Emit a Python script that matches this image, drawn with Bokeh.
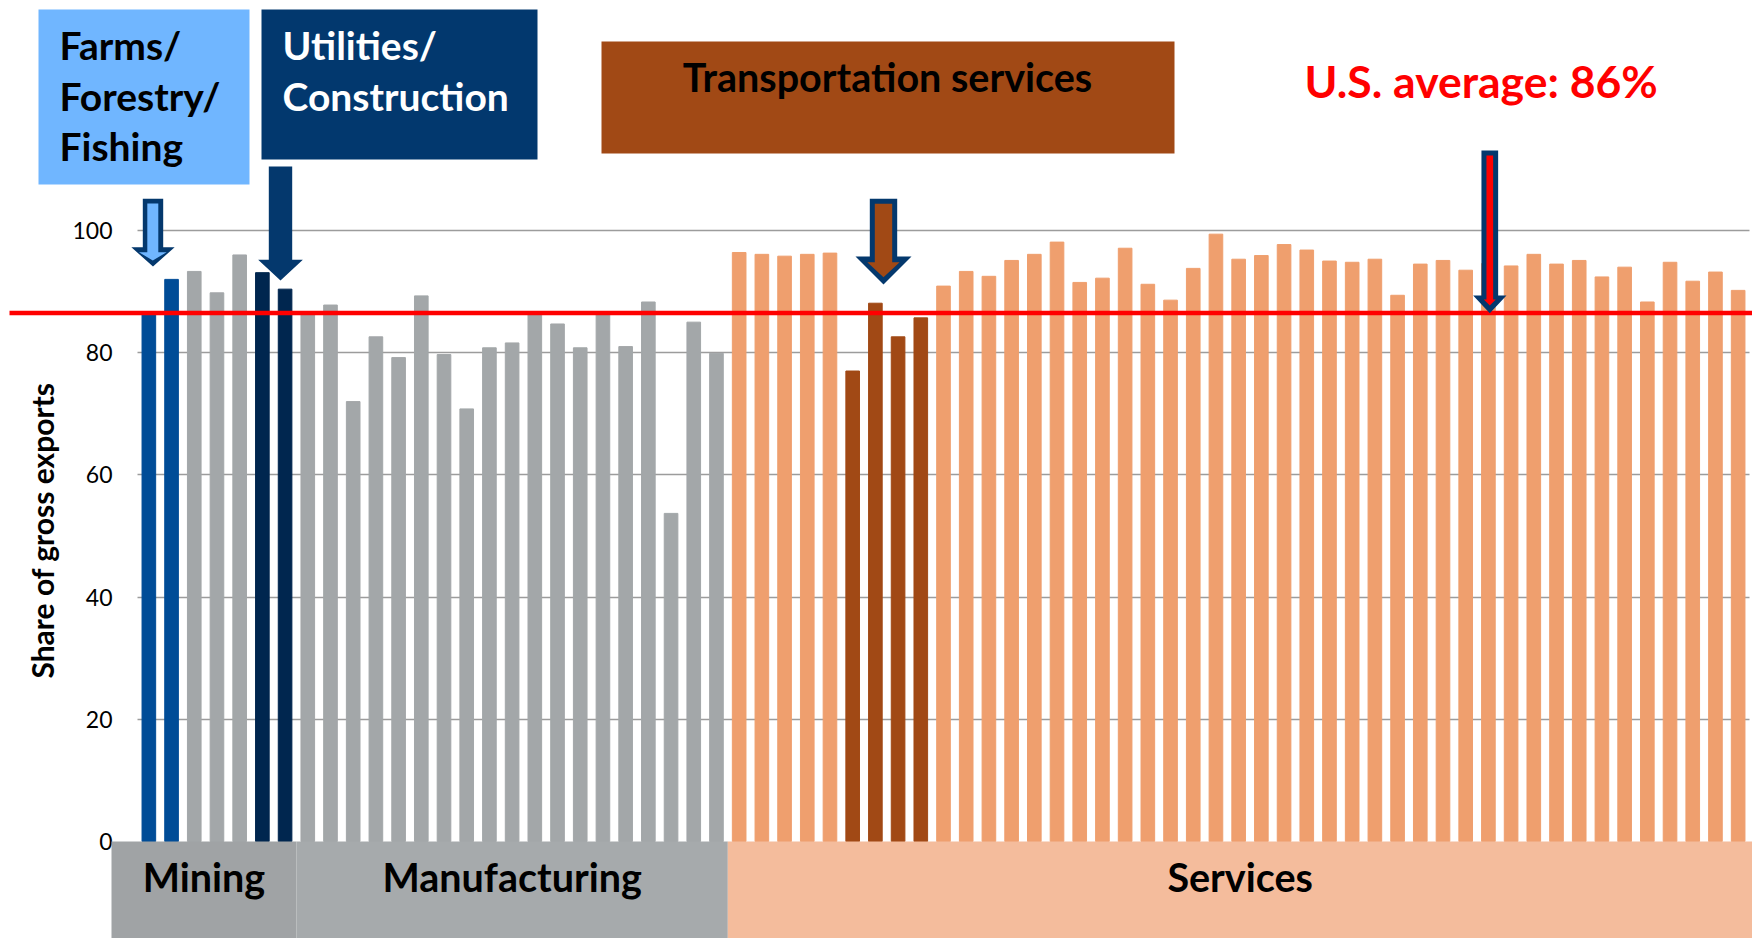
from bokeh.plotting import figure
from bokeh.models import Range1d, BoxAnnotation, PolyAnnotation, Label, FixedTicker, ColumnDataSource
from bokeh.embed import file_html
from bokeh.resources import INLINE

# ---------------- data (share of gross exports, %) ----------------
farms = [86.4, 92.0]
mining = [93.3, 89.8, 96.0]
utilities = [93.1, 90.4]
manufacturing = [86.6, 87.8, 72.0, 82.6, 79.2, 89.3, 79.7, 70.8, 80.8, 81.6,
                 86.6, 84.7, 80.8, 86.6, 81.0, 88.3, 53.7, 85.0, 79.9]
services_a = [96.4, 96.1, 95.8, 96.1, 96.3]
transport = [77.0, 88.1, 82.6, 85.7]
services_b = [90.9, 93.3, 92.5, 95.1, 96.1, 98.1, 91.5, 92.2, 97.1, 91.2,
              88.6, 93.8, 99.4, 95.3, 95.9, 97.7, 96.8, 95.0, 94.8, 95.3,
              89.4, 94.5, 95.1, 93.5, 94.6, 94.2, 96.1, 94.5, 95.1, 92.4,
              94.0, 88.3, 94.8, 91.7, 93.2, 90.2]
us_average = 86.5
y_ticks = [0, 20, 40, 60, 80, 100]
group_labels = ["Mining", "Manufacturing", "Services"]
y_title = "Share of gross exports"

# ---------------- styling ----------------
C_FARM = "#004C97"
C_GRAY = "#A3A7A9"
C_UTIL = "#00264F"
C_SERV = "#EF9F6E"
C_TRAN = "#A14915"
NAVY = "#04386D"
FONT = "Lato"

groups = [(farms, C_FARM), (mining, C_GRAY), (utilities, C_UTIL), (manufacturing, C_GRAY),
          (services_a, C_SERV), (transport, C_TRAN), (services_b, C_SERV)]
vals, cols = [], []
for g, c in groups:
    vals += g
    cols += [c] * len(g)
xs = list(range(1, len(vals) + 1))
n = len(vals)
src = ColumnDataSource(dict(x=xs, top=vals, color=cols))

W, H = 1752, 938
# plot area of the bars in page pixels
FX0, FX1 = 137.0, 1749.0
FY0, FY1 = 230.0, 841.0
def dx(px):
    return 0.5 + (px - FX0) * n / (FX1 - FX0)
def dy(py):
    return (FY1 - py) * 100.0 / (FY1 - FY0)
PXX = (FX1 - FX0) / n  # px per x unit

p = figure(width=W, height=H, x_range=Range1d(dx(0), dx(W)), y_range=Range1d(dy(H), dy(0)),
           output_backend="svg", toolbar_location=None, x_axis_location=None, min_border=0)
p.min_border_left = 0
p.min_border_right = 0
p.min_border_top = 0
p.min_border_bottom = 0
p.outline_line_color = None
p.background_fill_color = "white"
p.border_fill_color = "white"
for g in p.xgrid:
    g.visible = False

ax = p.yaxis[0]
ax.fixed_location = 0.5
ax.bounds = (0, 101.8)
ax.ticker = FixedTicker(ticks=y_ticks)
ax.axis_line_color = None
ax.major_tick_line_color = None
ax.minor_tick_line_color = None
ax.major_tick_out = 0
ax.major_tick_in = 0
ax.major_label_standoff = 25
ax.major_label_text_font = FONT
ax.major_label_text_font_size = "23px"
ax.major_label_text_color = "#000000"
ax.axis_label = y_title
ax.axis_label_text_font = FONT
ax.axis_label_text_font_style = "bold"
ax.axis_label_text_font_size = "30px"
ax.axis_label_text_color = "#000000"
ax.axis_label_standoff = 9

gr = p.ygrid[0]
gr.ticker = FixedTicker(ticks=y_ticks[1:])
gr.grid_line_color = "#9C9C9C"
gr.grid_line_width = 1.6
gr.cross_bounds = (0.5, n + 0.5)

p.vbar(x="x", top="top", width=0.6, color="color", source=src)

# category band below the axis
bounds = [dx(111), len(farms) + len(mining) + len(utilities) + 0.5,
          len(farms) + len(mining) + len(utilities) + len(manufacturing) + 0.5, dx(1752)]
band_cols = ["#A0A3A5", "#A6AAAC", "#F4BC9C"]
for i, lab in enumerate(group_labels):
    p.add_layout(BoxAnnotation(left=bounds[i], right=bounds[i + 1], top=0, bottom=dy(990),
                               fill_color=band_cols[i], fill_alpha=1, line_color=None))
for i, lab in enumerate(group_labels):
    p.add_layout(Label(x=(bounds[i] + bounds[i + 1]) / 2, y=dy(876), text=lab, text_align="center",
                       text_baseline="alphabetic", text_font=FONT, text_font_style="bold",
                       text_font_size="39.5px", text_color="black"))

# US average line
p.add_layout(BoxAnnotation(left=dx(9), right=dx(1752), top=us_average, bottom=us_average,
                           fill_alpha=0, line_color="#FF0000", line_alpha=1, line_width=4.3))

# block arrows
def arrow(cx_px, shaft, head, top, head_top, tip, color):
    cx = dx(cx_px)
    hs, hh = shaft / 2 / PXX, head / 2 / PXX
    axs = [cx - hs, cx + hs, cx + hs, cx + hh, cx, cx - hh, cx - hs]
    ays = [dy(top), dy(top), dy(head_top), dy(head_top), dy(tip), dy(head_top), dy(head_top)]
    p.add_layout(PolyAnnotation(xs=axs, ys=ays, xs_units="data", ys_units="data",
                                fill_color=color, fill_alpha=1, line_color=None))

arrow(152.5, 20.4, 43.3, 198.3, 246.7, 266, NAVY)
arrow(152.3, 11, 27.7, 203, 251.7, 260, "#70B6FF")
arrow(280.0, 23.4, 44.7, 166, 259.3, 280, NAVY)
arrow(883.0, 27.4, 56, 198.3, 256, 284, NAVY)
arrow(883.0, 17.4, 32.3, 203.3, 261.7, 276.7, C_TRAN)
arrow(1489.3, 16.7, 33.3, 150, 295, 312.7, NAVY)
arrow(1489.3, 6.7, 12, 155, 299, 305, "#FF0000")

# header boxes
p.add_layout(BoxAnnotation(left=dx(38), right=dx(249), top=dy(9), bottom=dy(184),
                           fill_color="#70B6FF", fill_alpha=1, line_color=None))
p.add_layout(BoxAnnotation(left=dx(261), right=dx(537), top=dy(9), bottom=dy(159),
                           fill_color="#02386E", fill_alpha=1, line_color=None))
p.add_layout(BoxAnnotation(left=dx(601), right=dx(1174), top=dy(41), bottom=dy(153),
                           fill_color=C_TRAN, fill_alpha=1, line_color=None))

def lab(x, y, text, color, size, align="left"):
    p.add_layout(Label(x=dx(x), y=dy(y), text=text, text_align=align, text_baseline="alphabetic",
                       text_font=FONT, text_font_style="bold", text_font_size=size,
                       text_color=color))

lab(59, 44, "Farms/", "black", "39px")
lab(59, 95, "Forestry/", "black", "39px")
lab(59, 145, "Fishing", "black", "39px")
lab(282, 44, "Utilities/", "white", "39px")
lab(282, 95, "Construction", "white", "39px")
lab(887, 76, "Transportation services", "black", "39.5px", "center")
lab(1304, 80, "U.S. average: 86%", "#FF0000", "44.5px")

open("out.html", "w").write(file_html(p, INLINE))
